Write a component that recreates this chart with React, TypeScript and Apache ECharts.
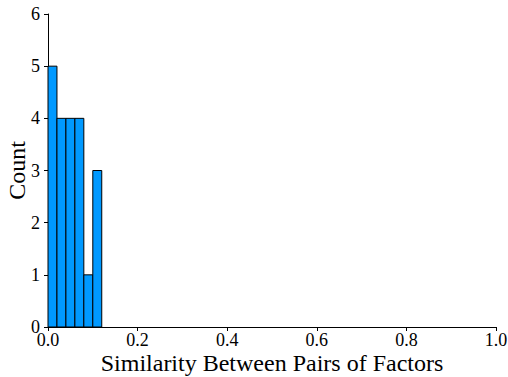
import React, { useEffect, useRef } from "react";
import * as echarts from "echarts";

const binStarts = [0.0, 0.02, 0.04, 0.06, 0.08, 0.1];
const binWidth = 0.02;
const counts = [5, 4, 4, 4, 1, 3];
const xTicks = [0, 0.2, 0.4, 0.6, 0.8, 1.0];
const yTicks = [0, 1, 2, 3, 4, 5, 6];

export default function App() {
  const ref = useRef<HTMLDivElement>(null);
  useEffect(() => {
    const chart = echarts.init(ref.current!, null, { renderer: "svg" });
    const font = "'Liberation Serif', 'Times New Roman', Times, serif";
    chart.setOption({
      animation: false,
      textStyle: { fontFamily: font },
      grid: { left: 48, right: 12, top: 14, bottom: 50, outerBoundsMode: "none", containLabel: false },
      xAxis: {
        type: "value",
        min: xTicks[0],
        max: xTicks[xTicks.length - 1],
        interval: 0.2,
        name: "Similarity Between Pairs of Factors",
        nameLocation: "middle",
        nameGap: 24,
        nameMoveOverlap: false,
        nameTextStyle: { fontFamily: font, fontSize: 24, color: "#000" },
        axisLine: { show: true, lineStyle: { color: "#000", width: 1 } },
        axisTick: { show: true, length: 4, lineStyle: { color: "#000" } },
        axisLabel: {
          fontFamily: font,
          fontSize: 18,
          fontWeight: "normal",
          color: "#000",
          margin: 4,
          formatter: (v: number) => v.toFixed(1),
        },
        splitLine: { show: false },
      },
      yAxis: {
        type: "value",
        min: yTicks[0],
        max: yTicks[yTicks.length - 1],
        interval: 1,
        name: "Count",
        nameLocation: "middle",
        nameGap: 19,
        nameMoveOverlap: false,
        nameTextStyle: { fontFamily: font, fontSize: 24, color: "#000" },
        axisLine: { show: true, lineStyle: { color: "#000", width: 1 } },
        axisTick: { show: true, length: 4, lineStyle: { color: "#000" } },
        axisLabel: { fontFamily: font, fontSize: 18, fontWeight: "normal", color: "#000", margin: 8 },
        splitLine: { show: false },
      },
      series: [
        {
          type: "custom",
          data: binStarts.map((s, i) => [s, s + binWidth, counts[i]]),
          renderItem: (params: any, api: any) => {
            const x0 = api.value(0);
            const x1 = api.value(1);
            const c = api.value(2);
            const p0 = api.coord([x0, c]);
            const p1 = api.coord([x1, 0]);
            return {
              type: "rect",
              shape: { x: p0[0], y: p0[1], width: p1[0] - p0[0], height: p1[1] - p0[1] },
              style: { fill: "#0099ff", stroke: "#000", lineWidth: 1 },
            };
          },
        },
      ],
    });
    return () => chart.dispose();
  }, []);
  return <div ref={ref} style={{ width: 508, height: 377, position: "absolute", left: 0, top: 0 }} />;
}
